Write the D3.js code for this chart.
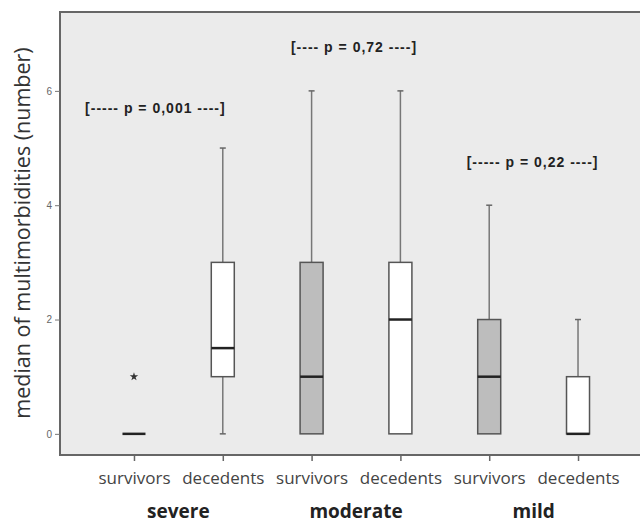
<!DOCTYPE html>
<html>
<head>
<meta charset="utf-8">
<script src="https://cdn.jsdelivr.net/npm/d3@7"></script>
<style>
  body { margin: 0; background: #fff; }
</style>
</head>
<body>
<script>
// data
var categories = ["survivors", "decedents", "survivors", "decedents", "survivors", "decedents"];
var groups = ["severe", "moderate", "mild"];
var whiskLow  = [0, 0, 0, 0, 0, 0];
var q1        = [0, 1, 0, 0, 0, 0];
var median    = [0, 1.5, 1, 2, 1, 0];
var q3        = [0, 3, 3, 3, 2, 1];
var whiskHigh = [0, 5, 6, 6, 4, 2];
var outliers  = [[1], [], [], [], [], []];
var shaded    = [true, false, true, false, true, false];
var yTicks = [0, 2, 4, 6];
var pLabels = ["[----- p = 0,001 ----]", "[---- p = 0,72 ----]", "[----- p = 0,22 ----]"];
var pValueY = [5.7, 6.77, 4.76];
var pShift = [-23, -2, -1];

var w = 640, h = 525;
var margin = {top: 12, left: 60, bottom: 70};
var svg = d3.select("body").append("svg")
    .attr("width", w)
    .attr("height", h);

var x = d3.scalePoint()
    .domain(d3.range(categories.length))
    .range([margin.left, 652])
    .padding(0.833);

var y = d3.scaleLinear()
    .domain([-0.37, 7.38])
    .range([455, margin.top]);

// plot background
svg.append("rect")
  .attr("x", margin.left)
  .attr("y", y(7.38))
  .attr("width", w - margin.left + 5)
  .attr("height", y(-0.37) - y(7.38))
  .attr("fill", "#ebebeb")
  .attr("stroke", "#666")
  .attr("stroke-width", 2);

// y axis
var yAxis = svg.append("g")
  .attr("transform", "translate(" + margin.left + ",0)")
  .call(d3.axisLeft(y).tickValues(yTicks).tickSize(5).tickPadding(3));
yAxis.select(".domain").remove();
yAxis.selectAll("line").attr("stroke", "#777");
yAxis.selectAll("text").attr("fill", "#666").style("font-family", "Arial, sans-serif").style("font-size", "10px");

// x axis ticks and labels
var xAxis = svg.append("g")
  .attr("transform", "translate(0," + y(-0.37) + ")")
  .call(d3.axisBottom(x).tickSize(6).tickPadding(11).tickFormat(function(i){ return categories[i]; }));
xAxis.select(".domain").remove();
xAxis.selectAll("line").attr("stroke", "#666").attr("stroke-width", 1.5);
xAxis.selectAll("text").attr("fill", "#444").style("font-family", "'Open Sans', sans-serif").style("font-size", "17px");

// group labels
svg.selectAll(".grp").data(groups).enter().append("text")
  .attr("class", "grp")
  .attr("x", function(d, i){ return (x(2*i) + x(2*i+1)) / 2; })
  .attr("y", 518)
  .attr("text-anchor", "middle")
  .attr("fill", "#222")
  .style("font-family", "'Open Sans', sans-serif")
  .style("font-weight", "bold")
  .style("font-size", "19px")
  .text(function(d){ return d; });

// y title
svg.append("text")
  .attr("transform", "translate(30," + 233 + ") rotate(-90)")
  .attr("text-anchor", "middle")
  .attr("fill", "#333")
  .style("font-family", "'Open Sans', sans-serif")
  .style("font-size", "21.5px")
  .text("median of multimorbidities (number)");

// boxes
var bw = 23, cap = 3;
var idx = d3.range(categories.length);
var box = svg.selectAll(".box").data(idx).enter().append("g").attr("class", "box");

box.append("line") // upper whisker
  .attr("x1", function(i){ return x(i); }).attr("x2", function(i){ return x(i); })
  .attr("y1", function(i){ return y(q3[i]); }).attr("y2", function(i){ return y(whiskHigh[i]); })
  .attr("stroke", "#777").attr("stroke-width", 1.5);
box.append("line") // lower whisker
  .attr("x1", function(i){ return x(i); }).attr("x2", function(i){ return x(i); })
  .attr("y1", function(i){ return y(q1[i]); }).attr("y2", function(i){ return y(whiskLow[i]); })
  .attr("stroke", "#777").attr("stroke-width", 1.5);
box.filter(function(i){ return whiskHigh[i] > q3[i]; }).append("line")
  .attr("x1", function(i){ return x(i) - cap; }).attr("x2", function(i){ return x(i) + cap; })
  .attr("y1", function(i){ return y(whiskHigh[i]); }).attr("y2", function(i){ return y(whiskHigh[i]); })
  .attr("stroke", "#666").attr("stroke-width", 1.5);
box.filter(function(i){ return whiskLow[i] < q1[i]; }).append("line")
  .attr("x1", function(i){ return x(i) - cap; }).attr("x2", function(i){ return x(i) + cap; })
  .attr("y1", function(i){ return y(whiskLow[i]); }).attr("y2", function(i){ return y(whiskLow[i]); })
  .attr("stroke", "#666").attr("stroke-width", 1.5);

box.append("rect")
  .attr("x", function(i){ return x(i) - bw / 2; })
  .attr("y", function(i){ return y(q3[i]); })
  .attr("width", bw)
  .attr("height", function(i){ return y(q1[i]) - y(q3[i]); })
  .attr("fill", function(i){ return shaded[i] ? "#bdbdbd" : "#fff"; })
  .attr("stroke", "#555")
  .attr("stroke-width", 1.5);

box.append("line") // median
  .attr("x1", function(i){ return x(i) - bw / 2; }).attr("x2", function(i){ return x(i) + bw / 2; })
  .attr("y1", function(i){ return y(median[i]); }).attr("y2", function(i){ return y(median[i]); })
  .attr("stroke", "#222").attr("stroke-width", 2.5);

// outliers
var outPts = [];
outliers.forEach(function(arr, i){ arr.forEach(function(v){ outPts.push([i, v]); }); });
svg.selectAll(".out").data(outPts).enter().append("path")
  .attr("class", "out")
  .attr("transform", function(d){ return "translate(" + x(d[0]) + "," + y(d[1]) + ")"; })
  .attr("d", d3.symbol().type(d3.symbolStar).size(22))
  .attr("fill", "#333");

// p-value annotations
svg.selectAll(".pval").data(pLabels).enter().append("text")
  .attr("class", "pval")
  .attr("x", function(d, i){ return (x(2*i) + x(2*i+1)) / 2 + pShift[i]; })
  .attr("y", function(d, i){ return y(pValueY[i]); })
  .attr("dy", "0.35em")
  .attr("text-anchor", "middle")
  .attr("fill", "#222")
  .style("font-family", "'Liberation Sans', Arial, sans-serif")
  .style("font-weight", "bold")
  .style("font-size", "14px")
  .style("letter-spacing", "1px")
  .text(function(d){ return d; });
</script>
</body>
</html>
